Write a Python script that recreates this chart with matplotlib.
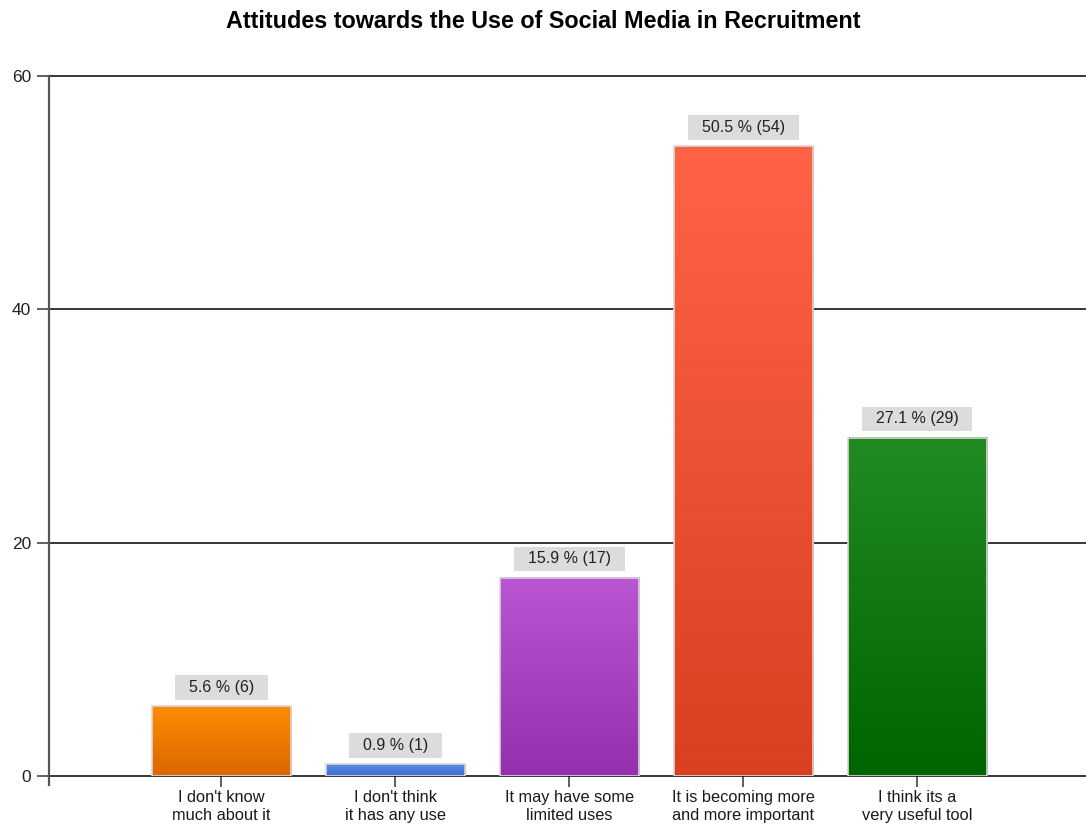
import numpy as np
import matplotlib
matplotlib.use("Agg")
import matplotlib.pyplot as plt
from matplotlib.colors import LinearSegmentedColormap

plt.rcParams['font.family'] = ['Liberation Sans', 'DejaVu Sans']

categories = ["I don't know\nmuch about it",
              "I don't think\nit has any use",
              "It may have some\nlimited uses",
              "It is becoming more\nand more important",
              "I think its a\nvery useful tool"]
counts = [6, 1, 17, 54, 29]
percents = [5.6, 0.9, 15.9, 50.5, 27.1]
top_colors = ["#FF8C00", "#5A8CE6", "#BA55D3", "#FF6347", "#228B22"]
bottom_colors = ["#D96800", "#3F6FD0", "#9430AE", "#D84020", "#006400"]
yticks = [0, 20, 40, 60]

fig = plt.figure(figsize=(10.86, 8.26), dpi=100)
ax = fig.add_axes([49 / 1086, 50 / 826, 1 - 49 / 1086, 700 / 826])

x = np.arange(len(categories))
bars = ax.bar(x, counts, width=0.8, color="none", edgecolor="#D8D8D8",
              linewidth=1.2, zorder=4)

grad = np.linspace(1, 0, 256).reshape(-1, 1)
for b, c_top, c_bot in zip(bars, top_colors, bottom_colors):
    cmap = LinearSegmentedColormap.from_list("g", [c_bot, c_top])
    x0, w, h = b.get_x(), b.get_width(), b.get_height()
    ax.imshow(grad, extent=(x0, x0 + w, 0, h), cmap=cmap, aspect="auto",
              origin="upper", zorder=3, interpolation="bicubic")

for b, p, c in zip(bars, percents, counts):
    ax.annotate(f"  {p} % ({c})  ", xy=(b.get_x() + b.get_width() / 2, b.get_height()),
                xytext=(0, 13.5), textcoords="offset points", ha="center", va="center",
                fontsize=11.5, color="#222222",
                bbox=dict(boxstyle="square,pad=0.3", facecolor="#DCDCDC",
                          edgecolor="none"),
                zorder=5)

ax.set_xlim(-0.99, 4.97)
ax.set_ylim(0, 60)
ax.set_yticks(yticks)
ax.set_yticklabels([str(t) for t in yticks], fontsize=12.5, color="#222222")
ax.set_xticks(x)
ax.set_xticklabels(categories, fontsize=11.8, color="#1A1A1A", linespacing=1.25)
ax.tick_params(axis="y", length=9, width=1.2, color="#444444", pad=4)
ax.tick_params(axis="x", length=8, width=1.2, color="#444444", pad=2)

for t in yticks:
    ax.axhline(t, color="black", linewidth=1.1, zorder=2, clip_on=False)

for s in ["top", "right", "bottom"]:
    ax.spines[s].set_visible(False)
ax.spines["left"].set_color("#555555")
ax.spines["left"].set_linewidth(1.6)
ax.spines["left"].set_bounds(-0.8, 60)
ax.set_ylim(0, 60)

fig.text(0.5, 1 - 21 / 826, "Attitudes towards the Use of Social Media in Recruitment",
         ha="center", va="center", fontsize=16.8, fontweight="bold", color="black")

fig.savefig("out.png", dpi=100)
